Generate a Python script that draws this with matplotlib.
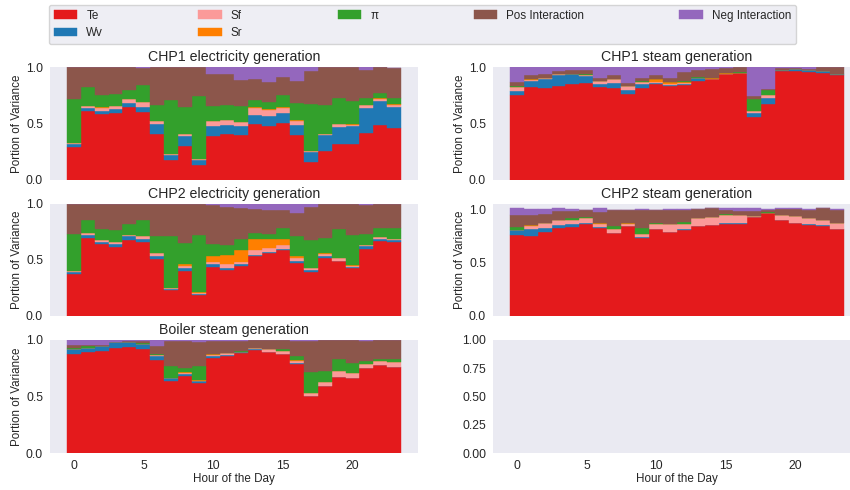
import matplotlib
matplotlib.use("Agg")
import matplotlib.pyplot as plt
import seaborn as sns
import numpy as np

sns.set_style("dark")
plt.rcParams['font.family'] = ['Liberation Sans', 'DejaVu Sans']

hours = list(range(24))
components = ["Te", "Wv", "Sf", "Sr", "\u03c0", "Pos Interaction", "Neg Interaction"]
colors = ["#e41a1c", "#1f78b4", "#fb9a99", "#ff7f00", "#33a02c", "#8c564b", "#9467bd"]
titles = ["CHP1 electricity generation", "CHP1 steam generation",
          "CHP2 electricity generation", "CHP2 steam generation",
          "Boiler steam generation"]

# CHP1 electricity generation
chp1e_te = [.29, .61, .58, .595, .65, .60, .405, .18, .30, .13, .39, .405, .40, .495, .48, .50, .395, .16, .26, .32, .32, .415, .49, .46]
chp1e_wv = [.03, .025, .03, .035, .035, .05, .09, .04, .09, .045, .09, .085, .075, .08, .085, .09, .095, .09, .14, .15, .155, .225, .21, .19]
chp1e_sf = [.01, .02, .03, .025, .035, .04, .03, .01, .02, .01, .045, .045, .04, .06, .055, .05, .035, .01, .005, .025, .01, .02, .02, .015]
chp1e_sr = [0, 0, .01, 0, 0, 0, 0, 0, 0, 0, 0, 0, 0, .01, .005, .01, .005, 0, .005, 0, .01, 0, .005, .005]
chp1e_pi = [.39, .17, .105, .105, .08, .155, .14, .48, .24, .56, .13, .125, .14, .065, .065, .10, .155, .415, .255, .235, .20, .07, .045, .055]
chp1e_pos = [.277, .175, .245, .24, .20, .15, .335, .29, .35, .255, .285, .275, .23, .185, .175, .16, .19, .29, .335, .27, .305, .24, .23, .27]
chp1e_neg = [.003, 0, 0, 0, 0, .005, 0, 0, 0, 0, .06, .065, .115, .105, .135, .09, .125, .035, 0, 0, 0, .03, 0, 0]

# CHP1 steam generation
chp1s_te = [.755, .825, .815, .83, .85, .86, .825, .81, .76, .815, .85, .835, .845, .88, .895, .94, .945, .56, .675, .965, .965, .96, .95, .925]
chp1s_wv = [.035, .055, .075, .10, .085, .06, .025, .05, .035, .035, .01, .01, .005, .02, 0, 0, .005, .03, .055, .005, .015, .01, .015, .01]
chp1s_sf = [.03, .005, .015, .01, .005, .005, .03, .03, .035, .015, .005, .005, .005, .005, 0, 0, 0, .025, .025, 0, 0, 0, 0, .005]
chp1s_sr = [0, .01, 0, 0, 0, 0, 0, 0, .005, 0, .025, .02, .01, 0, .01, .01, 0, 0, 0, 0, 0, 0, 0, 0]
chp1s_pi = [.01, 0, 0, 0, 0, .01, 0, 0, 0, .01, 0, 0, .01, .01, 0, 0, .005, .105, .04, 0, .005, .005, 0, 0]
chp1s_pos = [.04, .03, .03, .025, .035, .035, .025, .035, .025, .03, .035, .035, .08, .06, .08, .045, .045, .02, .01, .02, .01, .01, .035, .06]
chp1s_neg = [.13, .075, .065, .035, .025, .03, .095, .075, .14, .095, .075, .095, .045, .025, .015, .005, 0, .26, .195, .01, .005, .015, 0, 0]

# CHP2 electricity generation
chp2e_te = [.375, .70, .645, .62, .68, .665, .51, .23, .405, .19, .44, .41, .445, .535, .565, .585, .475, .39, .52, .49, .43, .60, .67, .66]
chp2e_wv = [.02, .02, .015, .025, .03, .02, .03, .01, .02, .01, .02, .02, .015, .01, .01, .015, .02, .02, .02, .005, .01, .025, .015, .015]
chp2e_sf = [.01, .02, .015, .015, .015, .025, .025, .01, .025, .005, .025, .03, .025, .04, .035, .035, .025, .02, .015, .02, .005, .01, .02, .01]
chp2e_sr = [0, 0, 0, 0, 0, 0, 0, 0, .01, .005, .055, .085, .105, .10, .075, .055, .015, 0, .005, 0, .01, 0, 0, 0]
chp2e_pi = [.325, .12, .10, .105, .10, .15, .145, .46, .195, .515, .10, .09, .10, .055, .045, .10, .175, .25, .135, .265, .27, .095, .08, .105]
chp2e_pos = [.27, .14, .225, .235, .175, .14, .29, .29, .345, .275, .35, .34, .27, .215, .22, .16, .21, .29, .305, .22, .275, .265, .215, .21]
chp2e_neg = [0, 0, 0, 0, 0, 0, 0, 0, 0, 0, .01, .025, .04, .045, .05, .05, .08, .03, 0, 0, 0, .005, 0, 0]

# CHP2 steam generation
chp2s_te = [.765, .755, .795, .83, .84, .87, .83, .785, .845, .735, .815, .795, .81, .85, .86, .87, .87, .935, .97, .90, .88, .86, .85, .82]
chp2s_wv = [.045, .065, .035, .03, .03, .01, .01, 0, .005, .005, 0, 0, .01, 0, 0, .01, .005, 0, 0, 0, 0, .005, .01, 0]
chp2s_sf = [0, .03, .045, .04, .035, .045, .025, .03, .015, .03, .05, .07, .045, .07, .075, .07, .075, .005, 0, .055, .065, .06, .045, .06]
chp2s_sr = [0, .01, 0, 0, 0, 0, .01, 0, .01, 0, 0, .005, 0, 0, 0, 0, 0, 0, 0, 0, 0, 0, 0, 0]
chp2s_pi = [.03, 0, 0, 0, .015, .01, 0, .03, .005, .06, .01, 0, .02, .005, 0, .01, 0, .005, .005, 0, 0, 0, 0, 0]
chp2s_pos = [.11, .095, .09, .085, .065, .06, .10, .155, .12, .17, .12, .125, .11, .085, .08, .04, .035, .045, .025, .05, .06, .075, .11, .12]
chp2s_neg = [.065, .05, .045, .03, .025, .005, .04, 0, 0, .01, .005, .01, .01, 0, 0, .015, .03, .025, .005, .01, .01, .01, 0, .005]

# Boiler steam generation
boil_te = [.88, .895, .90, .93, .94, .92, .82, .635, .68, .62, .845, .86, .885, .915, .895, .875, .785, .505, .59, .67, .665, .75, .78, .76]
boil_wv = [.04, .03, .05, .05, .045, .045, .04, .03, .015, .02, .015, .005, .01, .005, 0, 0, .01, 0, .005, 0, 0, 0, 0, 0]
boil_sf = [0, 0, 0, 0, 0, 0, .005, 0, .01, 0, .005, .02, 0, .005, .025, .025, .015, .03, .03, .055, .045, .035, .035, .045]
boil_sr = [0, 0, 0, 0, 0, 0, 0, 0, .01, .005, .01, 0, 0, 0, 0, 0, .01, 0, 0, 0, 0, 0, 0, 0]
boil_pi = [.01, .02, 0, .005, 0, .005, .015, .105, .04, .125, 0, 0, .01, 0, 0, .02, .035, .185, .105, .105, .09, .025, .015, .025]
boil_pos = [.025, .015, .005, 0, .01, .02, .07, .225, .235, .215, .115, .105, .09, .075, .08, .08, .135, .27, .27, .17, .20, .18, .17, .17]
boil_neg = [.045, .04, .045, .015, .005, .01, .05, .005, .01, .015, .01, .01, .005, 0, 0, 0, .01, .01, 0, 0, 0, .01, 0, 0]

panels = [
    [chp1e_te, chp1e_wv, chp1e_sf, chp1e_sr, chp1e_pi, chp1e_pos, chp1e_neg],
    [chp1s_te, chp1s_wv, chp1s_sf, chp1s_sr, chp1s_pi, chp1s_pos, chp1s_neg],
    [chp2e_te, chp2e_wv, chp2e_sf, chp2e_sr, chp2e_pi, chp2e_pos, chp2e_neg],
    [chp2s_te, chp2s_wv, chp2s_sf, chp2s_sr, chp2s_pi, chp2s_pos, chp2s_neg],
    [boil_te, boil_wv, boil_sf, boil_sr, boil_pi, boil_pos, boil_neg],
]
ylims = [(0, 1.0), (0, 1.0), (0, 1.0), (0, 1.055), (0, 1.0)]

W, H = 850, 490
fig = plt.figure(figsize=(8.5, 4.9), dpi=100)
axes = []
col_x = [50, 493]
row_y = [(67, 180), (204, 316), (340, 453)]
aw = 368
first = None
for r in range(3):
    for c in range(2):
        top, bot = row_y[r]
        rect = [col_x[c] / W, 1 - bot / H, aw / W, (bot - top) / H]
        ax = fig.add_axes(rect, sharex=first)
        if first is None:
            first = ax
        axes.append(ax)

tc = "#262626"
for i, ax in enumerate(axes):
    if i < len(panels):
        bottom = np.zeros(len(hours))
        for vals, col, lab in zip(panels[i], colors, components):
            ax.bar(hours, vals, bottom=bottom, width=1.0, color=col,
                   edgecolor=col, linewidth=0.3, label=lab)
            bottom = bottom + np.array(vals)
        ax.set_title(titles[i], fontsize=10.2, color=tc, pad=4)
        ax.set_ylim(*ylims[i])
        ax.set_yticks([0, 0.5, 1.0])
        ax.set_yticklabels(["0.0", "0.5", "1.0"])
        ax.set_ylabel("Portion of Variance", fontsize=8.4, color=tc, labelpad=2)
    else:
        ax.set_ylim(0, 1)
        ax.set_yticks([0, 0.25, 0.5, 0.75, 1.0])
        ax.set_yticklabels(["0.00", "0.25", "0.50", "0.75", "1.00"])
    ax.tick_params(labelsize=8.8, colors=tc, length=0, pad=5)
    for s in ax.spines.values():
        s.set_visible(False)
    if i < 4:
        ax.tick_params(labelbottom=False)
    else:
        ax.set_xlabel("Hour of the Day", fontsize=8.4, color=tc, labelpad=1)

first.set_xticks([0, 5, 10, 15, 20])

handles, labels = axes[0].get_legend_handles_labels()
leg = fig.legend(handles, labels, loc="upper left", ncol=5, mode="expand",
                 bbox_to_anchor=(49 / W, 0, (796 - 49) / W, 1 - 5 / H),
                 borderaxespad=0, fontsize=8.4, frameon=True)
for t in leg.get_texts():
    t.set_color(tc)

fig.savefig("out.png", dpi=100)
